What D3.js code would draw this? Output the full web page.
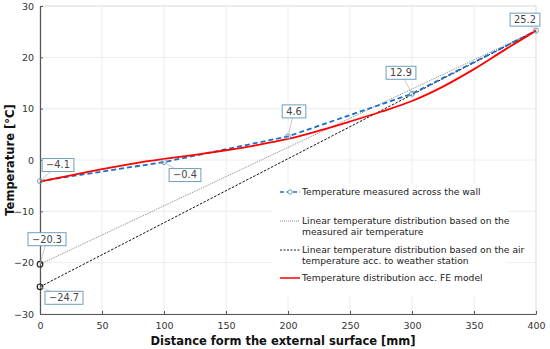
<!DOCTYPE html>
<html>
<head>
<meta charset="utf-8">
<script src="https://cdn.jsdelivr.net/npm/d3@7/dist/d3.min.js"></script>
<style>
  body { margin: 0; background: #fff; }
  svg text { font-family: "DejaVu Sans", Verdana, sans-serif; }
</style>
</head>
<body>
<div id="chart"></div>
<script>
// measured temperatures across the wall
var measuredX = [0, 100, 200, 300, 400];
var measuredT = [-4.1, -0.4, 4.6, 12.9, 25.2];

// linear distributions (end points)
var linAirX = [0, 400];
var linAirT = [-20.3, 25.2];
var linStationX = [0, 400];
var linStationT = [-24.7, 25.2];

// FE model curve
var feX = [0, 25, 50, 75, 100, 125, 150, 175, 200, 225, 250, 275, 300, 325, 350, 375, 400];
var feT = [-4.2, -3.0, -1.8, -0.7, 0.2, 1.0, 1.9, 2.9, 4.1, 5.7, 7.5, 9.4, 11.5, 14.3, 17.7, 21.5, 25.2];

var xTicks = [0, 50, 100, 150, 200, 250, 300, 350, 400];
var yTicks = [-30, -20, -10, 0, 10, 20, 30];

var legendLabels = [
    ["Temperature measured across the wall"],
    ["Linear temperature distribution based on the", "measured air temperature"],
    ["Linear temperature distribution based on the air", "temperature acc. to weather station"],
    ["Temperature distribution acc. FE model"]
];

var config = {
    width: 550,
    height: 349,
    left: 40, right: 536, top: 6, bottom: 314,
    blue: '#1a6fc9',
    red: '#ff0000',
    boxColor: '#6f9fba',
    grid: '#ececec',
    axis: '#555'
};

var fmt = function (v) { return (v < 0 ? '\u2212' : '') + Math.abs(v).toFixed(1); };

var svg = d3.select('#chart').append('svg')
    .attr('width', config.width)
    .attr('height', config.height);

var x = d3.scaleLinear().domain([0, 400]).range([config.left, config.right]);
var y = d3.scaleLinear().domain([-30, 30]).range([config.bottom, config.top]);

// grid
svg.append('g').selectAll('line').data(xTicks).enter().append('line')
    .attr('x1', function (d) { return x(d); }).attr('x2', function (d) { return x(d); })
    .attr('y1', config.top).attr('y2', config.bottom)
    .attr('stroke', config.grid);
svg.append('g').selectAll('line').data(yTicks).enter().append('line')
    .attr('x1', config.left).attr('x2', config.right)
    .attr('y1', function (d) { return y(d); }).attr('y2', function (d) { return y(d); })
    .attr('stroke', config.grid);

// frame top/right
svg.append('path')
    .attr('d', 'M' + config.left + ',' + config.top + 'H' + config.right + 'V' + config.bottom)
    .attr('fill', 'none').attr('stroke', '#e2e2e2');

// axes
var xAxis = svg.append('g')
    .attr('transform', 'translate(0,' + config.bottom + ')')
    .call(d3.axisBottom(x).tickValues(xTicks).tickSizeInner(-3).tickSizeOuter(0).tickPadding(8));
var yAxis = svg.append('g')
    .attr('transform', 'translate(' + config.left + ',0)')
    .call(d3.axisLeft(y).tickValues(yTicks).tickSizeInner(-3).tickSizeOuter(0).tickPadding(6)
        .tickFormat(function (d) { return d < 0 ? '\u2212' + Math.abs(d) : d; }));
[xAxis, yAxis].forEach(function (a) {
    a.select('.domain').attr('stroke', config.axis).attr('stroke-width', 1.2);
    a.selectAll('.tick line').attr('stroke', config.axis);
    a.selectAll('.tick text').attr('fill', '#333').style('font-size', '9.5px')
        .style('font-family', '"DejaVu Sans", Verdana, sans-serif');
});

// axis titles
svg.append('text')
    .attr('x', 283).attr('y', 345)
    .attr('text-anchor', 'middle')
    .style('font-size', '11.5px').style('font-weight', 'bold')
    .attr('fill', '#111')
    .text('Distance form the external surface [mm]');
svg.append('text')
    .attr('transform', 'translate(14,' + y(0) + ') rotate(-90)')
    .attr('text-anchor', 'middle')
    .style('font-size', '11.5px').style('font-weight', 'bold')
    .attr('fill', '#111')
    .text('Temperature [\u00b0C]');

// legend background (drawn before lines, hides grid)
svg.append('rect')
    .attr('x', 272).attr('y', 184).attr('width', 236).attr('height', 112)
    .attr('fill', '#fff');

var line = d3.line()
    .x(function (d) { return x(d[0]); })
    .y(function (d) { return y(d[1]); });

svg.append('path')
    .datum(d3.zip(linAirX, linAirT))
    .attr('d', line)
    .attr('fill', 'none').attr('stroke', '#777').attr('stroke-width', 0.9)
    .attr('stroke-dasharray', '1,1');

svg.append('path')
    .datum(d3.zip(linStationX, linStationT))
    .attr('d', line)
    .attr('fill', 'none').attr('stroke', '#111').attr('stroke-width', 1)
    .attr('stroke-dasharray', '2.5,1.5');

svg.append('path')
    .datum(d3.zip(measuredX, measuredT))
    .attr('d', line)
    .attr('fill', 'none').attr('stroke', config.blue).attr('stroke-width', 1.8)
    .attr('stroke-dasharray', '5,3');

svg.append('path')
    .datum(d3.zip(feX, feT))
    .attr('d', line.curve(d3.curveCatmullRom))
    .attr('fill', 'none').attr('stroke', config.red).attr('stroke-width', 1.8);

// markers
svg.append('g').selectAll('circle').data(d3.zip(measuredX, measuredT)).enter().append('circle')
    .attr('cx', function (d) { return x(d[0]); })
    .attr('cy', function (d) { return y(d[1]); })
    .attr('r', 2.5)
    .attr('fill', 'none').attr('stroke', '#6f9fba').attr('stroke-width', 1);
svg.append('g').selectAll('circle').data([[linAirX[0], linAirT[0]], [linStationX[0], linStationT[0]]]).enter().append('circle')
    .attr('cx', function (d) { return x(d[0]); })
    .attr('cy', function (d) { return y(d[1]); })
    .attr('r', 2.8)
    .attr('fill', 'none').attr('stroke', '#222').attr('stroke-width', 1.2);

// callouts: [value x, value t, box offset dx, dy]
var callouts = [
    [measuredX[0], measuredT[0], 18, -16],
    [measuredX[1], measuredT[1], 21, 13],
    [measuredX[2], measuredT[2], 6, -25],
    [measuredX[3], measuredT[3], -11, -21],
    [measuredX[4], measuredT[4], -11, -11],
    [linAirX[0], linAirT[0], 7, -25],
    [linStationX[0], linStationT[0], 24, 11]
];
var cg = svg.append('g');
callouts.forEach(function (c) {
    var px = x(c[0]), py = y(c[1]);
    var bx = px + c[2], by = py + c[3];
    var label = fmt(c[1]);
    var t = cg.append('text')
        .attr('x', bx).attr('y', by + 3.4)
        .attr('text-anchor', 'middle')
        .attr('fill', '#444')
        .style('font-size', '9.8px')
        .text(label);
    var w = t.node().getComputedTextLength() + 8;
    cg.insert('line', 'text')
        .attr('x1', px).attr('y1', py).attr('x2', bx).attr('y2', by)
        .attr('stroke', '#bbb').attr('stroke-width', 0.8);
    cg.insert('rect', 'text')
        .attr('x', bx - w / 2).attr('y', by - 6.5)
        .attr('width', w).attr('height', 13)
        .attr('fill', '#fff').attr('stroke', config.boxColor).attr('stroke-width', 1);
});

// legend
var legendY = [192, 221, 250, 278];
var lg = svg.append('g');
legendLabels.forEach(function (lines, i) {
    var ly = legendY[i];
    var sample = lg.append('line')
        .attr('x1', 280).attr('x2', 300).attr('y1', ly).attr('y2', ly);
    if (i === 0) {
        sample.attr('stroke', config.blue).attr('stroke-width', 1.5).attr('stroke-dasharray', '4,2.5');
        lg.append('circle').attr('cx', 290).attr('cy', ly).attr('r', 2.2)
            .attr('fill', '#fff').attr('stroke', '#6f9fba');
    } else if (i === 1) {
        sample.attr('stroke', '#888').attr('stroke-width', 1).attr('stroke-dasharray', '1,1');
    } else if (i === 2) {
        sample.attr('stroke', '#222').attr('stroke-width', 1).attr('stroke-dasharray', '2,1.5');
    } else {
        sample.attr('stroke', config.red).attr('stroke-width', 1.5);
    }
    lines.forEach(function (s, j) {
        lg.append('text')
            .attr('x', 302).attr('y', ly + 3.3 + j * 10.5)
            .attr('fill', '#222')
            .style('font-size', '9.2px')
            .text(s);
    });
});
</script>
</body>
</html>
